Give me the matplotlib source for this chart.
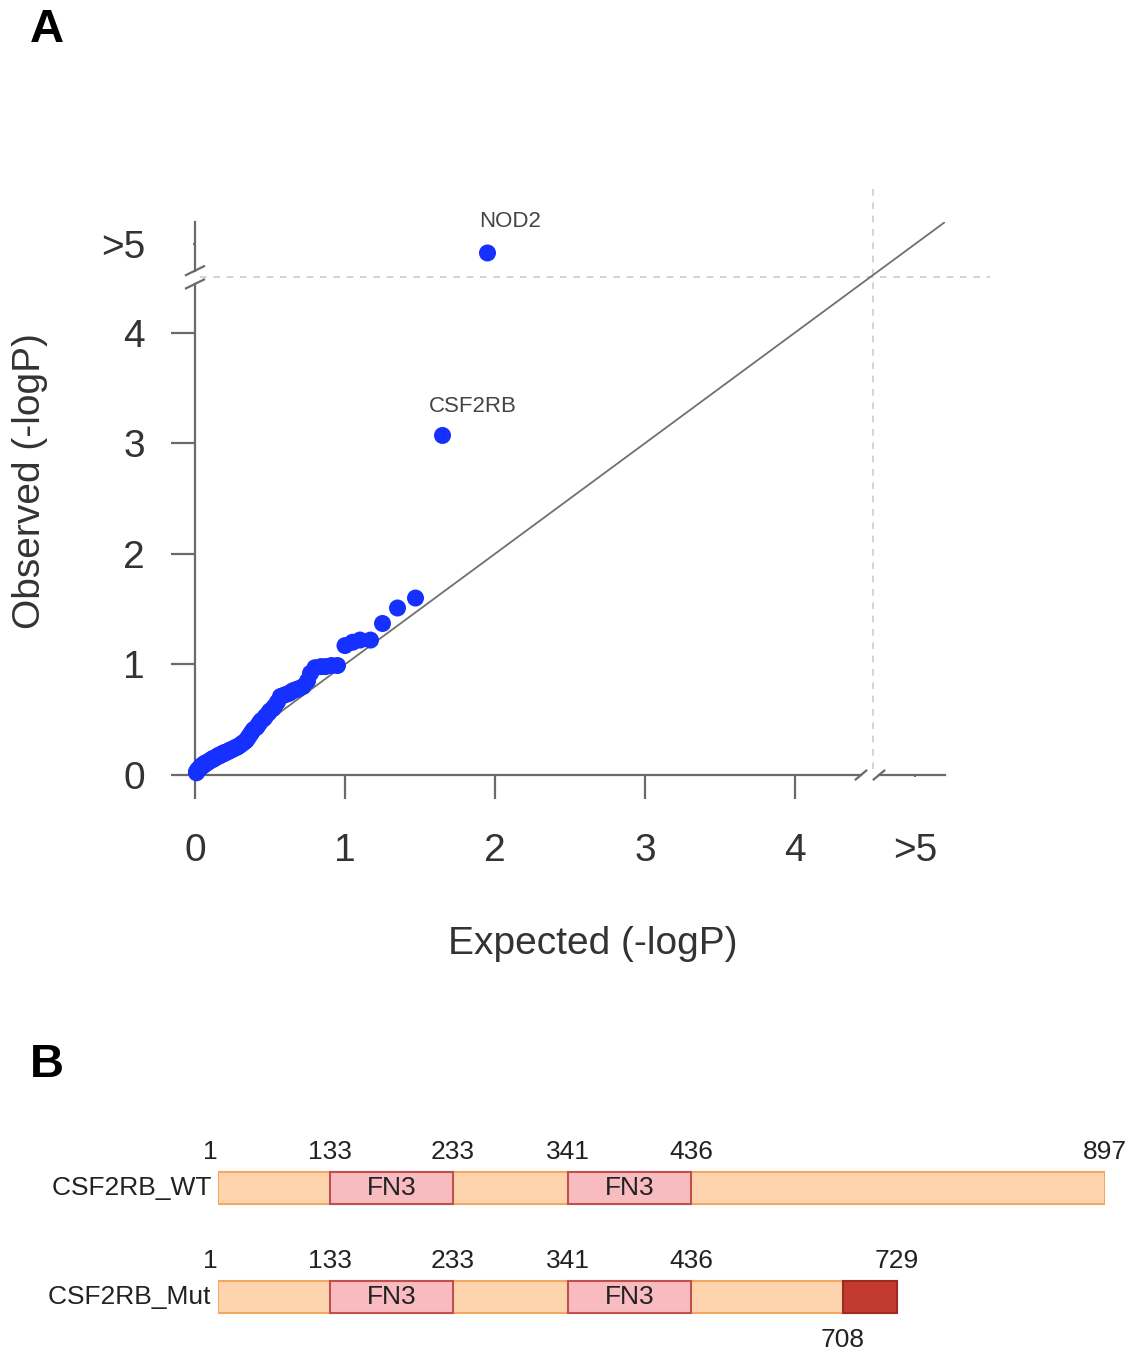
import matplotlib
matplotlib.use("Agg")
import numpy as np
import matplotlib.pyplot as plt
from matplotlib.patches import Rectangle

plt.rcParams['font.family'] = ['Liberation Sans', 'DejaVu Sans']

# ---- Panel A: QQ plot values ----
expected = [1.95, 1.65, 1.47, 1.35, 1.25, 1.17, 1.10, 1.05, 1.00, 0.95,
            0.91, 0.87, 0.84, 0.80, 0.77, 0.75, 0.72, 0.69, 0.67, 0.65,
            0.63, 0.61, 0.59, 0.57, 0.55, 0.53, 0.52, 0.50, 0.49, 0.47,
            0.46, 0.44, 0.43, 0.42, 0.41, 0.39, 0.38, 0.37, 0.36, 0.35,
            0.34, 0.33, 0.32, 0.31, 0.30, 0.29, 0.28, 0.27, 0.26, 0.25,
            0.24, 0.23, 0.23, 0.22, 0.21, 0.20, 0.19, 0.19, 0.18, 0.17,
            0.16, 0.16, 0.15, 0.14, 0.14, 0.13, 0.12, 0.12, 0.11, 0.10,
            0.10, 0.09, 0.09, 0.08, 0.07, 0.07, 0.06, 0.06, 0.05, 0.05,
            0.04, 0.04, 0.03, 0.03, 0.02, 0.02, 0.01, 0.01]
observed = [4.72, 3.07, 1.60, 1.51, 1.37, 1.22, 1.22, 1.20, 1.17, 0.99,
            0.99, 0.98, 0.98, 0.97, 0.92, 0.85, 0.80, 0.78, 0.77, 0.76,
            0.74, 0.73, 0.72, 0.71, 0.66, 0.62, 0.60, 0.58, 0.56, 0.53,
            0.51, 0.49, 0.47, 0.45, 0.43, 0.41, 0.39, 0.37, 0.35, 0.33,
            0.31, 0.30, 0.29, 0.28, 0.27, 0.26, 0.25, 0.25, 0.24, 0.23,
            0.23, 0.22, 0.22, 0.21, 0.21, 0.20, 0.20, 0.19, 0.19, 0.18,
            0.18, 0.17, 0.17, 0.16, 0.16, 0.15, 0.15, 0.14, 0.14, 0.13,
            0.13, 0.12, 0.12, 0.11, 0.11, 0.10, 0.10, 0.09, 0.09, 0.08,
            0.08, 0.07, 0.06, 0.06, 0.05, 0.04, 0.03, 0.02]
gene_labels = {0: "NOD2", 1: "CSF2RB"}
tick_vals = [0, 1, 2, 3, 4, 4.8]
tick_text = ["0", "1", "2", "3", "4", ">5"]
brk = 4.5

# ---- Panel B: protein domains ----
proteins = ["CSF2RB_WT", "CSF2RB_Mut"]
lengths = [897, 729]
dom_starts = [133, 341]
dom_ends = [233, 436]
dom_name = "FN3"
mut_tail_start = 708

W, H = 1141, 1355
fig = plt.figure(figsize=(W / 100, H / 100), dpi=100)

gray = '#6a6a6a'
txt = '#333333'

ax = fig.add_axes([195 / W, 1 - 775 / H, 750 / W, 553 / H])
ax.set_xlim(0, 5)
ax.set_ylim(0, 5)
for s in ax.spines.values():
    s.set_visible(False)

# axis lines with breaks
g = 0.06
ax.plot([0, 0], [0, brk - g], color=gray, lw=1.6, clip_on=False)
ax.plot([0, 0], [brk + g, 5], color=gray, lw=1.6, clip_on=False)
ax.plot([0, brk - g], [0, 0], color=gray, lw=1.6, clip_on=False)
ax.plot([brk + g, 5], [0, 0], color=gray, lw=1.6, clip_on=False)
for d in (-g, g):
    ax.plot([-0.06, 0.06], [brk + d - 0.04, brk + d + 0.04], color=gray, lw=1.6, clip_on=False)
    ax.plot([brk + d - 0.035, brk + d + 0.035], [-0.04, 0.04], color=gray, lw=1.6, clip_on=False)

# threshold dashed lines
ax.plot([0.03, 5.3], [brk, brk], ls=(0, (4, 4)), color='#cccccc', lw=1.2, clip_on=False)
ax.plot([4.52, 4.52], [0.05, 5.3], ls=(0, (4, 4)), color='#cccccc', lw=1.2, clip_on=False)

# diagonal
ax.plot([0, 5], [0, 5], color='#707070', lw=1.3, zorder=2)

ax.scatter(expected, observed, s=150, color='#1530ff', edgecolors='none', zorder=3, clip_on=False)
offsets = {0: (16, 23), 1: (22, 21)}
for i, name in gene_labels.items():
    ax.annotate(name, (expected[i], observed[i]), xytext=offsets[i], textcoords='offset points',
                ha='center', va='center', fontsize=16, color='#444444')

ax.set_xticks(tick_vals)
ax.set_xticklabels(tick_text)
ax.set_yticks(tick_vals)
ax.set_yticklabels(tick_text)
ax.tick_params(axis='x', direction='out', length=17, width=1.6, color=gray, pad=25,
               labelsize=28, labelcolor=txt)
ax.tick_params(axis='y', direction='out', length=17, width=1.6, color=gray, pad=19,
               labelsize=28, labelcolor=txt)
ax.xaxis.get_major_ticks()[-1].tick1line.set_markersize(1.5)
ax.yaxis.get_major_ticks()[-1].tick1line.set_markersize(1.5)

fig.text(593 / W, 1 - 944 / H, "Expected (-logP)", fontsize=28, color=txt, ha='center', va='center')
fig.text(30 / W, 1 - 481 / H, "Observed (-logP)", fontsize=28, color=txt, ha='center', va='center',
         rotation=90)

fig.text(47 / W, 1 - 30 / H, "A", fontsize=34, fontweight='bold', ha='center', va='center')
fig.text(47 / W, 1 - 1065 / H, "B", fontsize=34, fontweight='bold', ha='center', va='center')

# ---- Panel B (schematic, not to scale: piecewise axis like the original drawing) ----
res_anchor = [1, 133, 233, 341, 436, 708, 729, 897]
draw_anchor = [0, 112, 235, 350, 473, 625, 679, 887]
fwd = lambda x: np.interp(x, res_anchor, draw_anchor)
inv = lambda y: np.interp(y, draw_anchor, res_anchor)

ax2 = fig.add_axes([218 / W, 0, 887 / W, 225 / H])
ax2.set_xscale('function', functions=(fwd, inv))
ax2.set_xlim(1, 897)
ax2.set_ylim(1.532, -0.532)
ax2.axis('off')
h = 0.30
fs = 19
for row, (name, L) in enumerate(zip(proteins, lengths)):
    ax2.add_patch(Rectangle((1, row - h / 2), L - 1, h, facecolor='#fdd4ae', edgecolor='#f2a862', lw=1.5))
    for s0, e0 in zip(dom_starts, dom_ends):
        ax2.add_patch(Rectangle((s0, row - h / 2), e0 - s0, h, facecolor='#f8bcc0',
                                edgecolor='#c0504d', lw=1.5, zorder=3))
        ax2.text(inv((fwd(s0) + fwd(e0)) / 2), row, dom_name, ha='center', va='center', fontsize=fs,
                 color='#222222', zorder=4)
        ax2.text(s0, row - 0.33, str(s0), ha='center', va='center', fontsize=fs, color='#222222')
        ax2.text(e0, row - 0.33, str(e0), ha='center', va='center', fontsize=fs, color='#222222')
    ax2.text(1, row - 0.33, "1", ha='right', va='center', fontsize=fs, color='#222222')
    ax2.text(L, row - 0.33, str(L), ha='center', va='center', fontsize=fs, color='#222222')
    ax2.text(1, row, name + " ", ha='right', va='center', fontsize=fs, color='#222222')
    if L < lengths[0]:
        ax2.add_patch(Rectangle((mut_tail_start, row - h / 2), L - mut_tail_start, h,
                                facecolor='#c23a30', edgecolor='#9e2a22', lw=1.5, zorder=3))
        ax2.text(mut_tail_start, row + 0.39, str(mut_tail_start), ha='center', va='center',
                 fontsize=fs, color='#222222')

fig.savefig("out.png", dpi=100)
